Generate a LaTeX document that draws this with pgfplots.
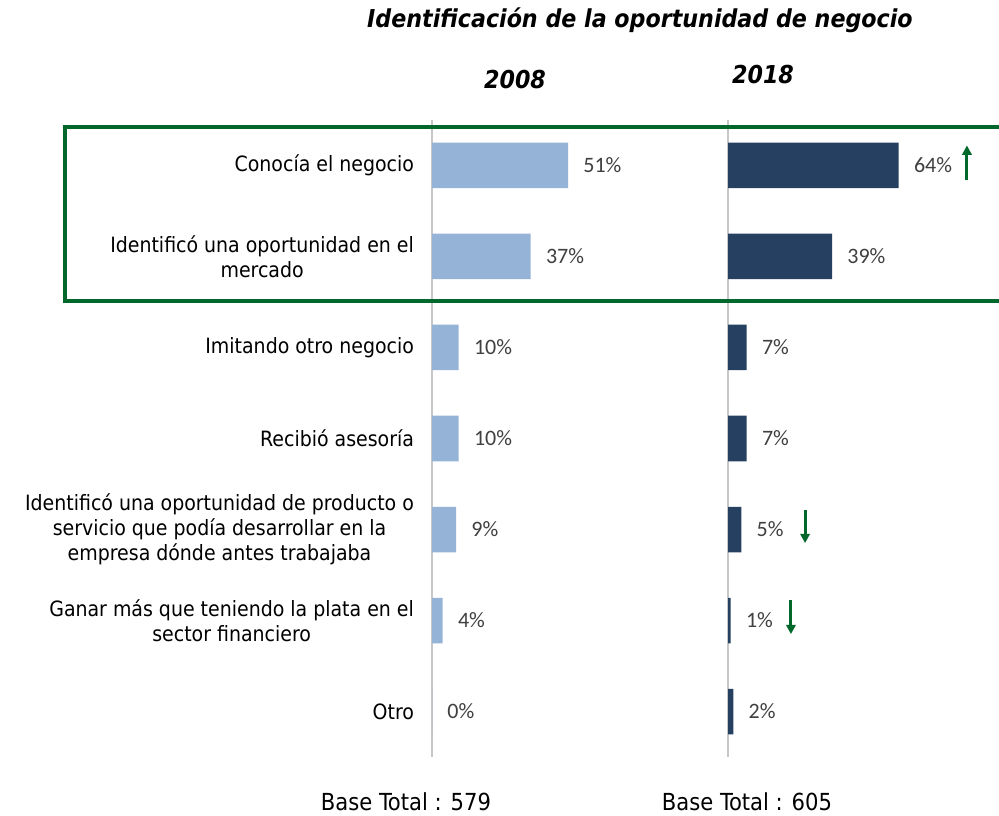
\documentclass[border=0pt]{standalone}
\usepackage{pgfplots}
\pgfplotsset{compat=1.18}
\usepackage{fontspec}
\usetikzlibrary{arrows.meta}
\setmainfont{DejaVu Sans Condensed}
\newfontfamily\labfont{DejaVu Sans Condensed}
\newfontfamily\numfont{Carlito}
\definecolor{lightbar}{RGB}{149,179,215}
\definecolor{darkbar}{RGB}{38,64,98}
\definecolor{boxgreen}{RGB}{0,104,42}
\definecolor{labgray}{RGB}{64,64,64}
\begin{document}
\begin{tikzpicture}
\clip (0pt,0pt) rectangle (749.25pt,612pt);
\fill[white] (0pt,0pt) rectangle (749.25pt,612pt);
\pgfplotsset{
  panel/.style={
    xbar, scale only axis, width=200pt, height=477.75pt,
    xmin=0, xmax=100, ymin=-0.5, ymax=6.5, y dir=reverse,
    bar width=0.5, anchor=south west,
    hide x axis, axis y line*=left,
    y axis line style={draw=black!22, line width=0.8pt, -},
    ytick={0,1,2,3,4,5,6}, major tick length=0pt,
    /pgf/number format/assume math mode=true,
    nodes near coords={\pgfmathprintnumber{\pgfplotspointmeta}\%},
    nodes near coords style={font=\numfont\fontsize{16.5}{18}\selectfont, text=labgray, xshift=8pt},
    clip=false,
  }
}
\begin{axis}[panel, at={(324pt,44.25pt)},
  yticklabels={{Conocía el negocio},{Identificó una oportunidad en el\\mercado},{Imitando otro negocio},{Recibió asesoría},{Identificó una oportunidad de producto o\\servicio que podía desarrollar en la\\empresa dónde antes trabajaba},{Ganar más que teniendo la plata en el\\sector financiero},{Otro}},
  yticklabel style={font=\labfont\fontsize{15.8}{18.8}\selectfont, align=center, text=black, anchor=east, xshift=-10pt},
]
\addplot[fill=lightbar, draw=none] coordinates {(51,0) (37,1) (10,2) (10,3) (9,4) (4,5) (0,6)};
\end{axis}
\begin{axis}[panel, at={(546pt,44.25pt)}, yticklabels={}]
\addplot[fill=darkbar, draw=none] coordinates {(64,0) (39,1) (7,2) (7,3) (5,4) (1,5) (2,6)};
\draw[boxgreen, line width=2.2pt, -{Triangle[width=7pt,length=7pt]}] (axis cs:89.6,0.16) -- (axis cs:89.6,-0.22);
\draw[boxgreen, line width=2.2pt, -{Triangle[width=7pt,length=7pt]}] (axis cs:28.9,3.79) -- (axis cs:28.9,4.15);
\draw[boxgreen, line width=2.2pt, -{Triangle[width=7pt,length=7pt]}] (axis cs:23.6,4.78) -- (axis cs:23.6,5.15);
\end{axis}
\draw[boxgreen, line width=3pt] (48.75pt,516.75pt) rectangle (757.5pt,386.25pt);
\node[font=\labfont\bfseries\itshape\fontsize{18.5}{22}\selectfont] at (480pt,597pt) {Identificación de la oportunidad de negocio};
\node[font=\labfont\bfseries\itshape\fontsize{18.5}{22}\selectfont] at (386.25pt,552pt) {2008};
\node[font=\labfont\bfseries\itshape\fontsize{18.5}{22}\selectfont] at (572.25pt,555.75pt) {2018};
\node[font=\labfont\fontsize{17.6}{20}\selectfont] at (304.5pt,10.5pt) {Base Total : 579};
\node[font=\labfont\fontsize{17.6}{20}\selectfont] at (560.25pt,10.5pt) {Base Total : 605};
\end{tikzpicture}
\end{document}
